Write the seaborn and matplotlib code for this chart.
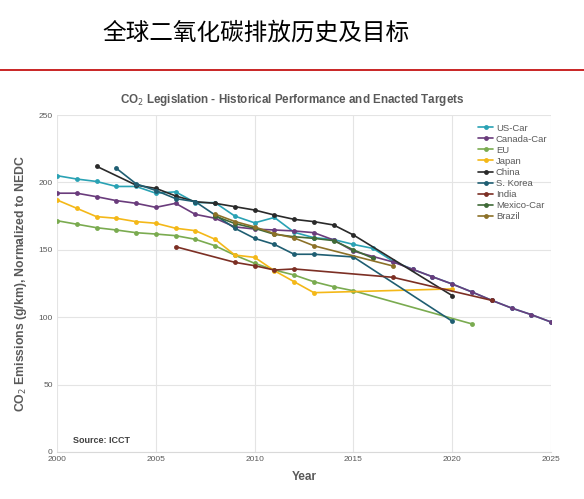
import pandas as pd
import matplotlib
matplotlib.use('Agg')
import matplotlib.pyplot as plt
import seaborn as sns

sns.set_style('whitegrid')
plt.rcParams['font.family'] = ['Liberation Sans', 'DejaVu Sans']

# 읽어낸 값 (g/km, NEDC 기준)
us_years = [2000, 2001, 2002, 2003, 2004, 2005, 2006, 2007, 2008, 2009, 2010, 2011, 2012, 2013,
            2014, 2015, 2016, 2017, 2018, 2019, 2020, 2021, 2022, 2023, 2024, 2025]
us_vals = [205, 202.5, 200.7, 197, 197, 192, 193, 185, 185, 175, 170, 174, 163, 159,
           157.6, 154, 151, 141.5, 135.5, 130, 124.6, 118.7, 112.5, 106.8, 101.9, 96.4]

ca_years = [2000, 2001, 2002, 2003, 2004, 2005, 2006, 2007, 2008, 2009, 2010, 2011, 2012, 2013,
            2014, 2015, 2016, 2017, 2018, 2019, 2020, 2021, 2022, 2023, 2024, 2025]
ca_vals = [192, 192, 189.4, 186.5, 184.5, 181.5, 184.5, 176.3, 173.4, 167, 165.4, 164.7, 164, 162.7,
           157.3, 149, 145, 141, 135.5, 130, 124.6, 118.7, 112.5, 106.8, 101.9, 96.4]

eu_years = [2000, 2001, 2002, 2003, 2004, 2005, 2006, 2007, 2008, 2009, 2010, 2011, 2012, 2013,
            2014, 2015, 2021]
eu_vals = [171.6, 169, 166.4, 164.7, 162.7, 161.7, 160.5, 157.8, 153, 146, 140, 135, 131.3, 126.3,
           122.6, 119.6, 95]

jp_years = [2000, 2001, 2002, 2003, 2004, 2005, 2006, 2007, 2008, 2009, 2010, 2011, 2012, 2013, 2020]
jp_vals = [187, 180.8, 174.6, 173.4, 170.9, 169.7, 166, 164.2, 157.8, 146.1, 144.4, 134.5, 126.3, 118.2, 121]

cn_years = [2002, 2004, 2005, 2006, 2007, 2008, 2009, 2010, 2011, 2012, 2013, 2014, 2015, 2020]
cn_vals = [212, 198, 195.6, 190, 185.7, 184.5, 182, 179.5, 175.8, 172.6, 170.9, 168.4, 161, 116]

kr_years = [2003, 2004, 2005, 2006, 2007, 2008, 2009, 2010, 2011, 2012, 2013, 2015, 2020]
kr_vals = [210.5, 199, 194, 188, 185.7, 175.8, 166, 158.5, 154, 146.7, 146.7, 144.7, 97]

in_years = [2006, 2009, 2010, 2011, 2012, 2017, 2022]
in_vals = [152.3, 140.7, 138.2, 135, 135.8, 129.6, 112.5]

mx_years = [2008, 2009, 2010, 2011, 2012, 2013, 2014, 2015, 2016]
mx_vals = [175, 169.5, 166, 161.5, 159.7, 158.5, 156.8, 150, 143.7]

br_years = [2008, 2009, 2010, 2011, 2012, 2013, 2017]
br_vals = [176.5, 171, 167, 162, 158.8, 153, 138]

regions = ['US-Car', 'Canada-Car', 'EU', 'Japan', 'China', 'S. Korea', 'India', 'Mexico-Car', 'Brazil']
colors = ['#2aa2b4', '#6a3c7c', '#7aab50', '#f4b818', '#2a2a2a', '#1f5e72', '#7c2f24', '#3f6a37', '#8c7128']

series = [(us_years, us_vals), (ca_years, ca_vals), (eu_years, eu_vals), (jp_years, jp_vals),
          (cn_years, cn_vals), (kr_years, kr_vals), (in_years, in_vals), (mx_years, mx_vals),
          (br_years, br_vals)]

rows = []
for name, (yrs, vals) in zip(regions, series):
    for y, v in zip(yrs, vals):
        rows.append({'Year': y, 'CO2': v, 'Region': name})
df = pd.DataFrame(rows)

fig = plt.figure(figsize=(5.84, 4.99), dpi=100)
ax = fig.add_axes([0.0976, 0.0942, 0.846, 0.6753])

sns.lineplot(data=df, x='Year', y='CO2', hue='Region', hue_order=regions,
             palette=colors, marker='o', markersize=3.5, markeredgewidth=0,
             linewidth=1.2, estimator=None, sort=True, ax=ax)

ax.set_xlim(2000, 2025)
ax.set_ylim(0, 250)
ax.set_xticks(range(2000, 2026, 5))
ax.set_yticks(range(0, 251, 50))
ax.tick_params(axis='both', labelsize=6, colors='#595959', length=0, pad=3)
ax.grid(color='#e4e4e4', linewidth=0.8)
for s in ax.spines.values():
    s.set_visible(False)
ax.spines['bottom'].set_visible(True)
ax.spines['bottom'].set_color('#d9d9d9')

ax.set_xlabel('Year', fontsize=8.5, fontweight='bold', color='#595959', labelpad=6)
ax.set_ylabel('CO$_2$ Emissions (g/km), Normalized to NEDC', fontsize=8.8,
              fontweight='bold', color='#595959', labelpad=7)

ax.text(2000.8, 7, 'Source: ICCT', fontsize=6.5, fontweight='bold', color='#404040')

leg = ax.legend(loc='upper left', bbox_to_anchor=(0.835, 1.0), frameon=False,
                fontsize=6.8, handlelength=1.6, labelspacing=0.22, handletextpad=0.3)
for t in leg.get_texts():
    t.set_color('#595959')

fig.text(0.5, 0.8, 'CO$_2$ Legislation - Historical Performance and Enacted Targets',
         ha='center', va='center', fontsize=8.4, fontweight='bold', color='#595959')

fig.text(0.176, 0.934, '全球二氧化碳排放历史及目标', ha='left', va='center', fontsize=17,
         family=['Noto Sans CJK SC', 'DejaVu Sans'], color='black')
fig.add_artist(plt.Line2D([0, 1], [0.859, 0.859], color='#c00000', linewidth=1.2,
                          transform=fig.transFigure))

fig.savefig('out.png', dpi=100)
